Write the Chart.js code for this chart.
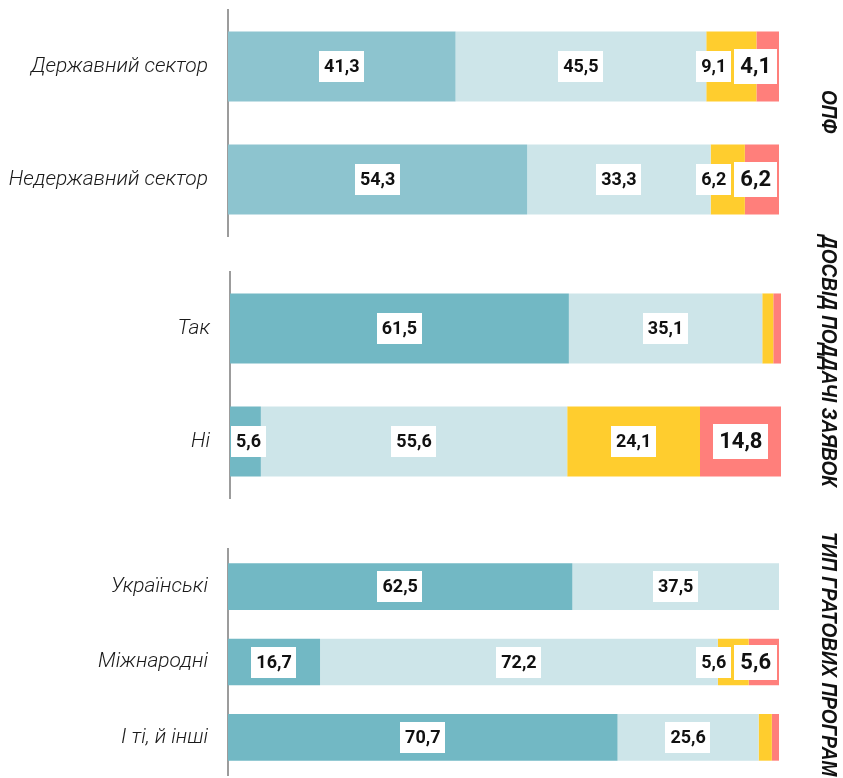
<!DOCTYPE html>
<html><head><meta charset="utf-8">
<script src="https://cdn.jsdelivr.net/npm/chart.js@4"></script>
<style>
html,body{margin:0;padding:0;background:#fff;}
#wrap{position:relative;width:843px;height:778px;overflow:hidden;background:#fff;}
#wrap canvas{position:absolute;left:0;top:0;}
</style></head><body>
<div id="wrap">
<canvas id="c1" width="843" height="778"></canvas>
<canvas id="c2" width="843" height="778"></canvas>
<canvas id="c3" width="843" height="778"></canvas>
</div>
<script>
// ---- data ----
const opfCategories = ['Державний сектор', 'Недержавний сектор'];
const opfSeries1 = [41.3, 54.3];
const opfSeries2 = [45.5, 33.3];
const opfSeries3 = [9.1, 6.2];
const opfSeries4 = [4.1, 6.2];

const expCategories = ['Так', 'Ні'];
const expSeries1 = [61.5, 5.6];
const expSeries2 = [35.1, 55.6];
const expSeries3 = [2.0, 24.1];
const expSeries4 = [1.4, 14.8];

const grantCategories = ['Українські', 'Міжнародні', 'І ті, й інші'];
const grantSeries1 = [62.5, 16.7, 70.7];
const grantSeries2 = [37.5, 72.2, 25.6];
const grantSeries3 = [0, 5.6, 2.4];
const grantSeries4 = [0, 5.6, 1.3];

const groupTitles = ['ОПФ', 'ДОСВІД ПОДДАЧІ ЗАЯВОК', 'ТИП ГРАТОВИХ ПРОГРАМ'];
const seriesNames = ['Варіант 1', 'Варіант 2', 'Варіант 3', 'Варіант 4'];

// ---- styles ----
const LIGHT = '#CDE5E9', YELLOW = '#FFCD2E', RED = '#FF7F7B';
const LABEL_MIN = 3;

const segLabels = {
  id: 'segLabels',
  afterDatasetsDraw(chart) {
    const ctx = chart.ctx, area = chart.chartArea;
    const n = chart.data.labels.length;
    ctx.save();
    for (let i = 0; i < n; i++) {
      const boxes = [];
      chart.data.datasets.forEach((ds, di) => {
        const v = ds.data[i];
        if (v < LABEL_MIN) return;
        const el = chart.getDatasetMeta(di).data[i];
        const big = di === 3;
        const font = 'bold ' + (big ? 22 : 18) + 'px Roboto';
        ctx.font = font;
        const text = v.toFixed(1).replace('.', ',');
        const tw = ctx.measureText(text).width;
        const padX = big ? 6 : 5;
        boxes.push({text, font, w: tw + 2 * padX, h: big ? 35 : 31, cx: (el.x + el.base) / 2, cy: el.y});
      });
      let limit = area.right - 2;
      for (let k = boxes.length - 1; k >= 0; k--) {
        const b = boxes[k];
        let left = b.cx - b.w / 2;
        if (left + b.w > limit) left = limit - b.w;
        if (left < area.left + 1) left = area.left + 1;
        b.left = left;
        limit = left - 3;
      }
      boxes.forEach(b => {
        ctx.fillStyle = '#fff';
        ctx.fillRect(Math.round(b.left), Math.round(b.cy - b.h / 2), Math.round(b.w), b.h);
        ctx.fillStyle = '#111';
        ctx.font = b.font;
        ctx.textAlign = 'center';
        ctx.textBaseline = 'middle';
        ctx.fillText(b.text, b.left + b.w / 2, b.cy + 1);
      });
    }
    ctx.restore();
  }
};

const groupTitle = {
  id: 'groupTitle',
  afterDraw(chart, args, opts) {
    const ctx = chart.ctx;
    ctx.save();
    ctx.font = 'italic bold 22px "Liberation Sans"';
    const refW = ctx.measureText(groupTitles[1]).width;
    const k = 252 / refW;
    ctx.translate(828, opts.start);
    ctx.rotate(Math.PI / 2);
    ctx.scale(k, 1);
    ctx.fillStyle = '#111';
    ctx.textAlign = 'left';
    ctx.textBaseline = 'middle';
    ctx.fillText(opts.text, 0, 0);
    ctx.restore();
  }
};

function makeChart(id, cats, series, lay) {
  const colors = [lay.teal, LIGHT, YELLOW, RED];
  return new Chart(document.getElementById(id), {
    type: 'bar',
    data: {
      labels: cats,
      datasets: series.map((d, i) => ({
        label: seriesNames[i], data: d, backgroundColor: colors[i],
        borderWidth: 0, barPercentage: 0.62, categoryPercentage: 1
      }))
    },
    options: {
      indexAxis: 'y',
      responsive: false,
      animation: false,
      devicePixelRatio: 1,
      layout: {padding: {top: lay.top, bottom: 778 - lay.bottom, left: 0, right: 843 - lay.right}},
      scales: {
        x: {display: false, stacked: true, min: 0, max: 100},
        y: {
          stacked: true,
          grid: {display: false},
          border: {display: true, color: '#9c9c9c', width: 2},
          ticks: {
            color: '#1a1a1a', padding: 12,
            font: {family: 'Roboto', size: 21, style: 'italic', weight: '300'}
          },
          afterFit: s => { s.width = lay.axisX; s.paddingTop = 0; s.paddingBottom = 0; }
        }
      },
      plugins: {
        legend: {display: false},
        tooltip: {enabled: false},
        groupTitle: {text: lay.title, start: lay.titleStart}
      }
    },
    plugins: [segLabels, groupTitle]
  });
}

makeChart('c1', opfCategories, [opfSeries1, opfSeries2, opfSeries3, opfSeries4],
  {top: 10, bottom: 236, axisX: 228, right: 779, teal: '#8DC4CF', title: groupTitles[0], titleStart: 90});
makeChart('c2', expCategories, [expSeries1, expSeries2, expSeries3, expSeries4],
  {top: 272, bottom: 498, axisX: 230, right: 781, teal: '#72B8C4', title: groupTitles[1], titleStart: 235});
makeChart('c3', grantCategories, [grantSeries1, grantSeries2, grantSeries3, grantSeries4],
  {top: 549, bottom: 775, axisX: 228, right: 779, teal: '#72B8C4', title: groupTitles[2], titleStart: 532});
</script>
</body></html>
